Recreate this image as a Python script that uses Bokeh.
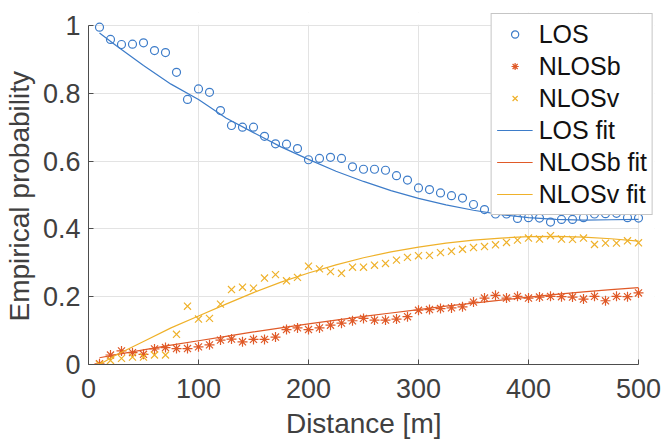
from bokeh.plotting import figure
from bokeh.models import Range1d, FixedTicker, Legend, LegendItem, BoxAnnotation
from bokeh.embed import file_html
from bokeh.resources import INLINE

distance = [10, 20, 30, 40, 50, 60, 70, 80, 90, 100,
            110, 120, 130, 140, 150, 160, 170, 180, 190, 200,
            210, 220, 230, 240, 250, 260, 270, 280, 290, 300,
            310, 320, 330, 340, 350, 360, 370, 380, 390, 400,
            410, 420, 430, 440, 450, 460, 470, 480, 490, 500]

los = [0.995, 0.959, 0.944, 0.945, 0.949, 0.926, 0.920, 0.862, 0.782, 0.813,
       0.803, 0.749, 0.705, 0.700, 0.700, 0.673, 0.651, 0.650, 0.637, 0.604,
       0.608, 0.611, 0.608, 0.583, 0.576, 0.576, 0.573, 0.557, 0.544, 0.521,
       0.516, 0.506, 0.498, 0.491, 0.472, 0.457, 0.444, 0.444, 0.431, 0.433,
       0.432, 0.420, 0.428, 0.428, 0.433, 0.444, 0.445, 0.446, 0.433, 0.432]

nlosb = [0.002, 0.028, 0.040, 0.035, 0.030, 0.046, 0.050, 0.047, 0.047, 0.052,
         0.058, 0.072, 0.075, 0.067, 0.074, 0.074, 0.081, 0.103, 0.108, 0.103,
         0.108, 0.116, 0.122, 0.129, 0.136, 0.131, 0.131, 0.134, 0.141, 0.160,
         0.162, 0.165, 0.167, 0.170, 0.184, 0.196, 0.204, 0.196, 0.201, 0.196,
         0.199, 0.201, 0.200, 0.199, 0.193, 0.201, 0.188, 0.201, 0.200, 0.211]

nlosv = [0.000, 0.012, 0.018, 0.022, 0.022, 0.028, 0.028, 0.089, 0.172, 0.134,
         0.136, 0.178, 0.221, 0.228, 0.225, 0.255, 0.265, 0.247, 0.257, 0.290,
         0.282, 0.274, 0.269, 0.287, 0.287, 0.293, 0.298, 0.308, 0.316, 0.321,
         0.322, 0.330, 0.334, 0.340, 0.345, 0.348, 0.353, 0.360, 0.367, 0.373,
         0.370, 0.380, 0.370, 0.369, 0.373, 0.354, 0.358, 0.358, 0.365, 0.359]

fit_distance = [10, 25, 50, 75, 100, 125, 150, 175, 200, 225, 250,
                275, 300, 325, 350, 375, 400, 425, 450, 475, 500]
los_fit = [0.978, 0.941, 0.882, 0.827, 0.782, 0.727, 0.684, 0.642, 0.605, 0.570, 0.540,
           0.513, 0.490, 0.471, 0.455, 0.442, 0.433, 0.428, 0.426, 0.427, 0.428]
nlosb_fit = [0.020, 0.029, 0.043, 0.057, 0.070, 0.083, 0.096, 0.108, 0.120, 0.131, 0.142,
             0.152, 0.162, 0.172, 0.181, 0.190, 0.199, 0.207, 0.214, 0.221, 0.227]
nlosv_fit = [0.000, 0.028, 0.068, 0.108, 0.143, 0.178, 0.212, 0.243, 0.270, 0.294, 0.315,
             0.332, 0.346, 0.358, 0.367, 0.373, 0.377, 0.378, 0.376, 0.371, 0.364]

x_ticks = [0, 100, 200, 300, 400, 500]
y_ticks = [0, 0.2, 0.4, 0.6, 0.8, 1.0]
y_tick_labels = ["0", "0.2", "0.4", "0.6", "0.8", "1"]
x_limits = (0, 500)
y_limits = (0, 1)

BLUE = "#3d7cc9"
ORANGE = "#e05a28"
YELLOW = "#efb12a"
FONT = "Liberation Sans"
NBSP = "\u00a0"

# Frame extends beyond the data limits (so the legend can overhang the axes,
# as in the original); axes/grid are limited to the data limits.
W, H = 662, 442
frame_left, frame_right = 88, 654
frame_top, frame_bottom = 12, 364
axes_right_px = 638   # x = 500
axes_top_px = 25      # y = 1
x_end = x_limits[0] + (x_limits[1] - x_limits[0]) * (frame_right - frame_left) / (axes_right_px - frame_left)
y_end = y_limits[0] + (y_limits[1] - y_limits[0]) * (frame_bottom - frame_top) / (frame_bottom - axes_top_px)

p = figure(width=W, height=H, output_backend="svg", toolbar_location=None,
           x_range=Range1d(x_limits[0], x_end), y_range=Range1d(y_limits[0], y_end),
           min_border_left=frame_left, min_border_right=W - frame_right,
           min_border_top=frame_top, min_border_bottom=H - frame_bottom)
p.outline_line_color = None
p.background_fill_color = "white"
p.border_fill_color = "white"

for ax in (p.xaxis[0], p.yaxis[0]):
    ax.axis_line_color = "#4d4d4d"
    ax.major_tick_line_color = "#4d4d4d"
    ax.major_tick_in = 5
    ax.major_tick_out = 0
    ax.minor_tick_line_color = None
    ax.major_label_text_font = FONT
    ax.major_label_text_font_size = "27px"
    ax.major_label_text_color = "#404040"
    ax.axis_label_text_font = FONT
    ax.axis_label_text_font_size = "28px"
    ax.axis_label_text_color = "#404040"
    ax.axis_label_text_font_style = "normal"

p.xaxis.bounds = x_limits
p.yaxis.bounds = y_limits
p.xaxis.ticker = FixedTicker(ticks=x_ticks)
p.yaxis.ticker = FixedTicker(ticks=y_ticks)
p.yaxis.major_label_overrides = {t: l for t, l in zip(y_ticks, y_tick_labels)}
# trailing no-break spaces re-centre the labels on the axes (frame is wider than the axes)
p.xaxis.axis_label = "Distance [m]" + NBSP * 2
p.yaxis.axis_label = "Empirical probability" + NBSP * 2
p.xaxis.major_label_standoff = 14
p.xaxis.axis_label_standoff = 7
p.yaxis.major_label_standoff = 8
p.yaxis.axis_label_standoff = 5

p.grid.grid_line_color = "#e3e3e3"
p.grid.grid_line_width = 1

# white masks hiding grid stubs outside the data limits (drawn under the data)
p.add_layout(BoxAnnotation(bottom=y_limits[1] + 0.002, fill_color="white", fill_alpha=1.0,
                           line_color=None, level="underlay"))
p.add_layout(BoxAnnotation(left=x_limits[1] + 0.6, fill_color="white", fill_alpha=1.0,
                           line_color=None, level="underlay"))

r_los = p.scatter(distance, los, marker="circle", size=8, fill_color=None,
                  line_color=BLUE, line_width=1.2)
r_nb = p.scatter(distance, nlosb, marker="asterisk", size=10, line_color=ORANGE, line_width=1.2)
r_nv = p.scatter(distance, nlosv, marker="x", size=10, line_color=YELLOW, line_width=1.2)
l_los = p.line(fit_distance, los_fit, line_color=BLUE, line_width=1.2)
l_nb = p.line(fit_distance, nlosb_fit, line_color=ORANGE, line_width=1.2)
l_nv = p.line(fit_distance, nlosv_fit, line_color=YELLOW, line_width=1.2)

legend = Legend(items=[
    LegendItem(label="LOS", renderers=[r_los]),
    LegendItem(label="NLOSb", renderers=[r_nb]),
    LegendItem(label="NLOSv", renderers=[r_nv]),
    LegendItem(label="LOS fit", renderers=[l_los]),
    LegendItem(label="NLOSb fit", renderers=[l_nb]),
    LegendItem(label="NLOSv fit", renderers=[l_nv]),
], location="top_right")
legend.label_text_font = FONT
legend.label_text_font_size = "25px"
legend.label_text_color = "#111111"
legend.glyph_width = 36
legend.glyph_height = 18
legend.label_height = 30
legend.label_width = 106
legend.label_standoff = 6
legend.spacing = 2
legend.padding = 5
legend.margin = 1
legend.border_line_color = "#8c8c8c"
legend.border_line_width = 1
legend.background_fill_color = "white"
legend.background_fill_alpha = 1.0
p.add_layout(legend, "center")

open("out.html", "w").write(file_html(p, INLINE))
